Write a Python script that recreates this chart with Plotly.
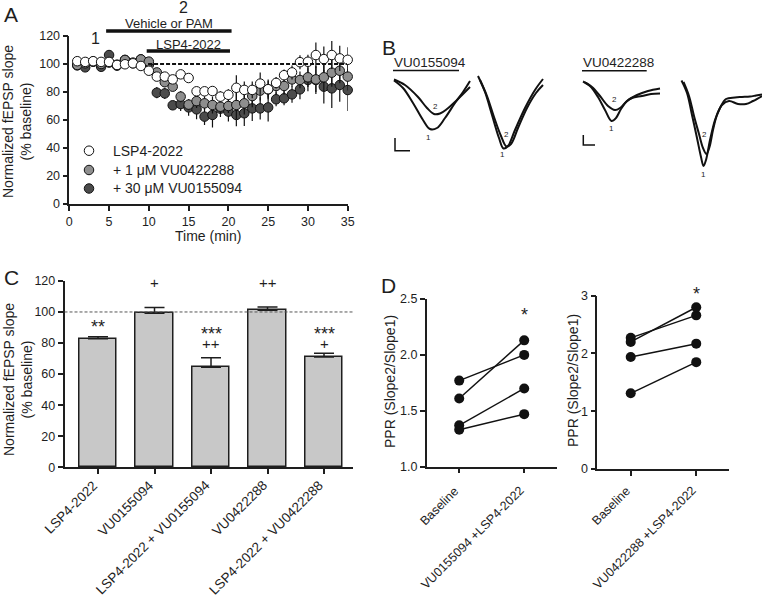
import plotly.graph_objects as go

W, H = 762, 601
def px(x): return x / W
def py(y): return 1 - y / H

FONT = "Liberation Sans, Arial, sans-serif"
INK = "#1e1e1e"

# ---------------- Panel A data ----------------
time_min = list(range(1, 36))
lsp4_2022 = [102.0, 101.5, 102.0, 101.5, 101.5, 99.3, 99.8, 100.5, 98.6, 95.2,
             91.0, 91.0, 89.0, 92.6, 90.0, 80.5, 80.5, 80.7, 76.7, 78.0,
             83.0, 81.5, 81.5, 86.0, 82.0, 86.5, 92.0, 94.0, 101.3, 101.6,
             106.4, 103.5, 106.4, 104.0, 103.0]
lsp4_2022_err = [3, 3, 2, 2, 2, 2, 3, 2, 3, 3,
                 3, 3, 3, 3, 2, 3, 3, 3, 4, 4,
                 9, 6, 6, 8, 6, 4, 4, 5, 5, 5,
                 9, 9, 10, 9, 9]
vu0422288 = [99.3, 100.5, 101.7, 100.0, 101.0, 99.5, 102.9, 101.0, 103.3, 101.7,
             94.0, 87.0, 83.8, 76.7, 71.0, 73.5, 71.9, 70.7, 69.5, 70.0,
             70.7, 71.9, 77.1, 81.0, 81.9, 84.3, 84.3, 89.0, 88.6, 90.5,
             89.0, 90.5, 93.8, 95.2, 91.0]
vu0422288_err = [2, 3, 2, 3, 2, 2, 2, 2, 2, 2,
                 3, 3, 3, 4, 4, 5, 5, 6, 5, 5,
                 10, 8, 8, 7, 7, 6, 6, 5, 6, 7,
                 9, 10, 10, 9, 10]
vu0155094 = [99.0, 97.6, 101.7, 98.0, 106.4, 98.8, 102.9, 100.5, 103.3, 99.3,
             79.5, 79.0, 70.5, 71.4, 69.0, 67.6, 62.4, 63.6, 68.1, 66.0,
             63.6, 64.8, 68.3, 68.3, 69.0, 74.8, 75.5, 78.3, 81.9, 88.6,
             88.6, 83.8, 82.6, 85.0, 81.4]
vu0155094_err = [3, 3, 3, 3, 3, 3, 3, 2, 3, 3,
                 4, 4, 3, 5, 6, 7, 6, 9, 6, 7,
                 8, 9, 9, 8, 10, 5, 5, 6, 7, 8,
                 10, 12, 14, 12, 15]
a_names = ["LSP4-2022", "+ 1 \u03bcM VU0422288", "+ 30 \u03bcM VU0155094"]
a_xticks = [0, 5, 10, 15, 20, 25, 30, 35]

# ---------------- Panel C data ----------------
c_categories = ["LSP4-2022", "VU0155094", "LSP4-2022 + VU0155094",
                "VU0422288", "LSP4-2022 + VU0422288"]
c_values = [82.8, 99.2, 64.4, 101.1, 71.0]
c_errors = [1.3, 3.6, 6.2, 2.1, 2.4]
c_stars = ["**", "", "***", "", "***"]
c_plus = ["", "+", "++", "++", "+"]

# ---------------- Panel D data ----------------
d1_categories = ["Baseline", "VU0155094 +LSP4-2022"]
d1_baseline = [1.77, 1.61, 1.37, 1.33]
d1_treated = [2.00, 2.13, 1.70, 1.47]
d2_categories = ["Baseline", "VU0422288 +LSP4-2022"]
d2_baseline = [2.27, 2.20, 1.94, 1.31]
d2_treated = [2.66, 2.80, 2.17, 1.85]

# ---------------- Panel B example traces ----------------
b1a_x = [394, 403, 413, 423, 430, 437, 445, 455, 463, 470]
b1a_y = [80.5, 88, 103, 120, 129, 128, 118, 103, 92, 81]
b1b_x = [394, 405, 418, 427, 434, 440, 447, 456, 463, 470]
b1b_y = [79.5, 85, 97, 108, 114, 113.5, 109, 101, 94, 87]
b2a_x = [478, 485, 492, 499, 503.5, 508, 515, 525, 535, 543]
b2a_y = [76, 92, 115, 138, 148.5, 146, 130, 108, 90, 79]
b2b_x = [480, 487, 494, 501, 506.5, 511, 518, 527, 536, 543]
b2b_y = [80, 96, 117, 136, 146.5, 144, 128, 108, 93, 85]
b3a_x = [583, 590, 598, 605, 611.5, 616, 621, 627, 637, 648, 660]
b3a_y = [81.5, 86, 97, 110, 121, 118, 109, 101, 95, 91, 88.5]
b3b_x = [585, 592, 600, 608, 615, 620, 626, 632, 642, 651, 660]
b3b_y = [82.5, 87, 96, 106, 110, 108, 102, 98, 96, 94, 93.5]
b4a_x = [681.5, 687, 692, 697, 701, 703.5, 706, 710, 715, 720, 726, 735, 742, 750, 756, 762]
b4a_y = [80.5, 93, 115, 138, 157, 166, 160, 140, 120, 108, 99, 97.5, 97, 96.5, 95.5, 94.5]
b4b_x = [683.5, 689, 694, 699, 703, 706.5, 709.5, 713, 717, 722, 729, 738, 746, 753, 762]
b4b_y = [82, 96, 116, 134, 148, 154, 147, 130, 115, 105, 101, 104, 104, 101, 96]
b_pairs = [(b1a_x, b1a_y), (b1b_x, b1b_y), (b2a_x, b2a_y), (b2b_x, b2b_y),
           (b3a_x, b3a_y), (b3b_x, b3b_y), (b4a_x, b4a_y), (b4b_x, b4b_y)]

fig = go.Figure()

# ---- Panel A traces (drawn dark first so white is on top) ----
a_colors = ["#ffffff", "#8e8e8e", "#4b4b4b"]
a_series = [
    (vu0155094, vu0155094_err, a_names[2], a_colors[2]),
    (vu0422288, vu0422288_err, a_names[1], a_colors[1]),
    (lsp4_2022, lsp4_2022_err, a_names[0], a_colors[0]),
]
for vals, errs, name, col in a_series:
    fig.add_trace(go.Scatter(
        x=time_min, y=vals, mode="markers", name=name, showlegend=False,
        marker=dict(size=9.5, color=col, line=dict(color="#111", width=1)),
        error_y=dict(type="data", array=errs, visible=True, width=0,
                     thickness=1.2, color="#111"),
        cliponaxis=False, xaxis="x", yaxis="y"))

# ---- Panel C bars ----
fig.add_trace(go.Bar(
    x=c_categories, y=c_values, width=0.67, showlegend=False,
    marker=dict(color="#c8c8c8", line=dict(color=INK, width=1.5)),
    error_y=dict(type="data", symmetric=False, array=c_errors,
                 arrayminus=[0] * len(c_errors), width=10, thickness=1.5, color=INK),
    xaxis="x2", yaxis="y2"))

# ---- Panel D lines ----
for b, t in zip(d1_baseline, d1_treated):
    fig.add_trace(go.Scatter(
        x=d1_categories, y=[b, t], mode="lines+markers", showlegend=False,
        line=dict(color="#111", width=1.5), marker=dict(size=10, color="#111"),
        cliponaxis=False, xaxis="x3", yaxis="y3"))
for b, t in zip(d2_baseline, d2_treated):
    fig.add_trace(go.Scatter(
        x=d2_categories, y=[b, t], mode="lines+markers", showlegend=False,
        line=dict(color="#111", width=1.5), marker=dict(size=10, color="#111"),
        cliponaxis=False, xaxis="x4", yaxis="y4"))

# ---- Panel B traces ----
for xs, ys in b_pairs:
    fig.add_trace(go.Scatter(
        x=xs, y=ys, mode="lines", showlegend=False, hoverinfo="skip",
        line=dict(color="#111", width=2, shape="spline", smoothing=1.0),
        cliponaxis=False, xaxis="x5", yaxis="y5"))

axis_common = dict(showline=True, linecolor=INK, linewidth=1.5, ticks="outside",
                   ticklen=5, tickwidth=1.5, tickcolor=INK, showgrid=False,
                   zeroline=False, automargin=False,
                   tickfont=dict(family=FONT, size=12.5, color=INK))

layout = dict(
    width=W, height=H, margin=dict(l=0, r=0, t=0, b=0, autoexpand=False),
    paper_bgcolor="white", plot_bgcolor="white",
    font=dict(family=FONT, color=INK),
    bargap=0, showlegend=False,
    xaxis=dict(axis_common, domain=[px(69.3), px(347.7)], range=[0, 35],
               tickvals=a_xticks, anchor="y"),
    yaxis=dict(axis_common, domain=[py(204), py(36)], range=[0, 120], dtick=20,
               anchor="x"),
    xaxis2=dict(axis_common, domain=[px(64.5), px(353)], range=[-0.593, 4.513],
                type="category", showticklabels=False, anchor="y2"),
    yaxis2=dict(axis_common, domain=[py(467.3), py(280.9)], range=[0, 120],
                dtick=20, anchor="x2"),
    xaxis3=dict(axis_common, domain=[px(426.7), px(556.7)], range=[-0.5, 1.5],
                type="category", showticklabels=False, anchor="y3"),
    yaxis3=dict(axis_common, domain=[py(466.7), py(299)], range=[1, 2.5],
                tickvals=[1.0, 1.5, 2.0, 2.5], tickformat=".1f", anchor="x3"),
    xaxis4=dict(axis_common, domain=[px(597.3), px(729)], range=[-0.51, 1.5],
                type="category", showticklabels=False, anchor="y4"),
    yaxis4=dict(axis_common, domain=[py(469), py(295.7)], range=[0, 3],
                dtick=1, anchor="x4"),
    xaxis5=dict(domain=[px(370), 1], range=[370, 762], visible=False, anchor="y5",
                automargin=False),
    yaxis5=dict(domain=[py(200), py(40)], range=[200, 40], visible=False, anchor="x5",
                automargin=False),
)

shapes = []
# Panel A dashed baseline and treatment bars
shapes.append(dict(type="line", xref="x", yref="y", x0=9.9, x1=34.9, y0=100, y1=100,
                   line=dict(color="#111", width=2, dash="4px,2px")))
shapes.append(dict(type="line", xref="x", yref="paper", x0=4.63, x1=20.4,
                   y0=py(31), y1=py(31), line=dict(color="#111", width=3.5)))
shapes.append(dict(type="line", xref="x", yref="paper", x0=9.73, x1=20.2,
                   y0=py(51), y1=py(51), line=dict(color="#111", width=3.5)))
# Panel A legend symbols
for (ly, col) in zip([150.7, 170, 188.5], a_colors):
    shapes.append(dict(type="circle", xref="paper", yref="paper",
                       x0=px(89 - 4.75), x1=px(89 + 4.75), y0=py(ly + 4.75), y1=py(ly - 4.75),
                       fillcolor=col, line=dict(color="#111", width=1)))
# Panel C dashed 100 line
shapes.append(dict(type="line", xref="x2 domain", yref="y2", x0=0, x1=1, y0=100, y1=100,
                   line=dict(color="#555", width=1, dash="3px,2px")))
# Panel B underlines and scale bars
shapes.append(dict(type="line", xref="paper", yref="paper", x0=px(393), x1=px(459),
                   y0=py(70.5), y1=py(70.5), line=dict(color="#111", width=1.5)))
shapes.append(dict(type="line", xref="paper", yref="paper", x0=px(582), x1=px(646.7),
                   y0=py(70.7), y1=py(70.7), line=dict(color="#111", width=1.5)))
for (x0, y0, y1, x1) in [(395, 138, 150.7, 410), (583.3, 135, 145, 595)]:
    shapes.append(dict(type="path", xref="paper", yref="paper",
                       path=f"M {px(x0)} {py(y0)} L {px(x0)} {py(y1)} L {px(x1)} {py(y1)}",
                       line=dict(color="#111", width=1.5)))
layout["shapes"] = shapes

ann = []
def text(x, y, s, size, **kw):
    d = dict(x=px(x), y=py(y), xref="paper", yref="paper", text=s, showarrow=False,
             font=dict(family=FONT, size=size, color=INK), xanchor="center",
             yanchor="middle")
    d.update(kw)
    ann.append(d)

# panel letters
text(11, 15, "A", 21)
text(389, 47, "B", 21)
text(11, 277, "C", 21)
text(388, 285, "D", 21)
# panel A labels
text(95, 39, "1", 16)
text(183, 8, "2", 16)
text(169, 24, "Vehicle or PAM", 13)
text(188, 44, "LSP4-2022", 13)
text(208, 236, "Time (min)", 14)
text(17, 122, "Normalized fEPSP slope<br>(% baseline)", 14, textangle=-90)
for (ly, name) in zip([150.7, 170, 188.5], a_names):
    text(111, ly, name, 14, xanchor="left")
# panel C
text(18, 380, "Normalized fEPSP slope<br>(% baseline)", 14, textangle=-90)
star_y = {0: 90.3, 2: 85.8, 4: 85.8}
plus_y = {1: 118.8, 2: 79.7, 3: 118.8, 4: 79.7}
for i, cat in enumerate(c_categories):
    if c_stars[i]:
        ann.append(dict(x=cat, y=star_y[i], xref="x2", yref="y2", text=c_stars[i],
                        showarrow=False, font=dict(family=FONT, size=18, color=INK)))
    if c_plus[i]:
        ann.append(dict(x=cat, y=plus_y[i], xref="x2", yref="y2", text=c_plus[i],
                        showarrow=False, font=dict(family=FONT, size=15, color=INK)))
    ann.append(dict(x=cat, y=py(475), xref="x2", yref="paper", text=cat,
                    showarrow=False, textangle=-45, xanchor="right", yanchor="top",
                    xshift=5, font=dict(family=FONT, size=13.5, color=INK)))
# panel D
text(390, 382, "PPR (Slope2/Slope1)", 14, textangle=-90)
text(573, 381, "PPR (Slope2/Slope1)", 14, textangle=-90)
for cat in d1_categories:
    ann.append(dict(x=cat, y=py(481), xref="x3", yref="paper", text=cat,
                    showarrow=False, textangle=-45, xanchor="right", yanchor="top",
                    xshift=5, font=dict(family=FONT, size=12.5, color=INK)))
for cat in d2_categories:
    ann.append(dict(x=cat, y=py(481), xref="x4", yref="paper", text=cat,
                    showarrow=False, textangle=-45, xanchor="right", yanchor="top",
                    xshift=5, font=dict(family=FONT, size=12.5, color=INK)))
ann.append(dict(x=d1_categories[1], y=py(315), xref="x3", yref="paper", text="*",
                showarrow=False, font=dict(family=FONT, size=18, color=INK)))
ann.append(dict(x=d2_categories[1], y=py(294), xref="x4", yref="paper", text="*",
                showarrow=False, font=dict(family=FONT, size=18, color=INK)))
# panel B texts
text(430, 62, "VU0155094", 13.5)
text(618.7, 62, "VU0422288", 13.5)
for (x, y, s) in [(435, 106, "2"), (428, 137, "1"), (506.7, 134, "2"), (502.7, 154.3, "1"),
                  (614, 100, "2"), (611.7, 128.3, "1"), (704.3, 134, "2"), (703.3, 175, "1")]:
    text(x, y, s, 8)
layout["annotations"] = ann

fig.update_layout(**layout)
fig.write_html("out.html", config={"displayModeBar": False},
               post_script="document.body.style.margin='0';document.body.style.padding='0';")
